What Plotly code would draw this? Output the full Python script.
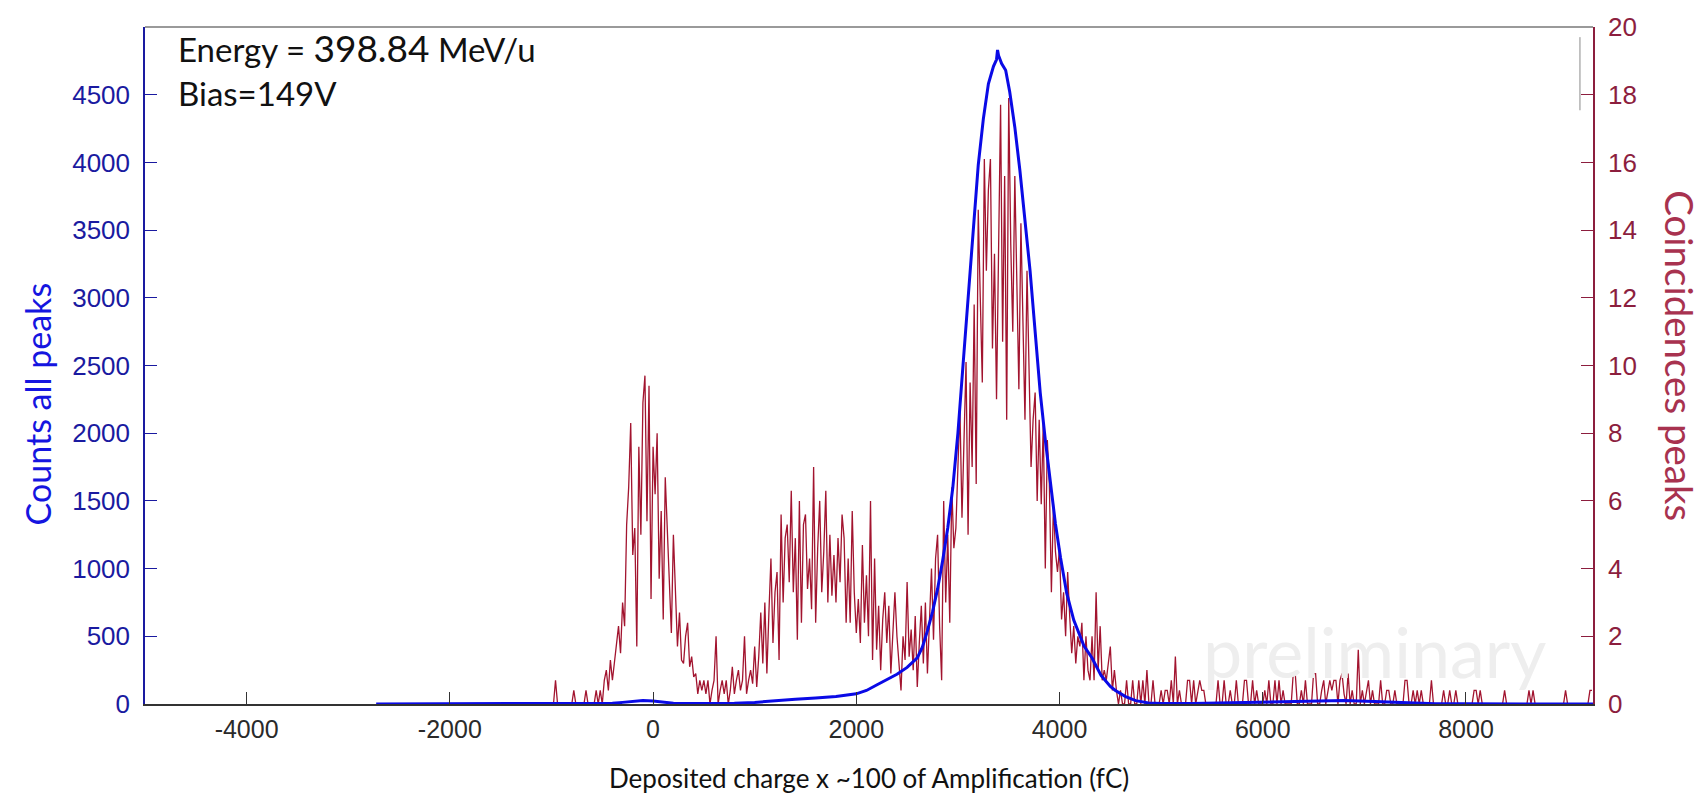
import plotly.graph_objects as go

# ---------------- data ----------------
# Coincidences histogram (right axis), bins of 20 fC starting at -1000
red_bin_start = -1000
red_bin_width = 20
red_values = [
    0, 0, 0.7, 0, 0, 0, 0, 0, 0, 0,                      # -1000
    0, 0.4, 0, 0, 0, 0, 0, 0.4, 0, 0,                    # -800
    0, 0, 0.4, 0, 0.4, 0, 0.7, 1.0, 0.4, 1.3,            # -600
    0.7, 1.3, 1.7, 2.3, 1.5, 3.0, 2.3, 5.3, 6.4, 8.3,    # -400
    4.4, 5.2, 1.7, 7.6, 5.0, 8.9, 9.7, 5.4, 9.4, 3.1,    # -200
    7.6, 6.2, 8.0, 3.7, 5.7, 2.5, 6.7, 5.0, 3.4, 2.1,    # 0
    5.0, 3.1, 1.7, 2.7, 1.3, 1.2, 2.0, 2.4, 1.1, 1.4,    # 200
    0.8, 0.9, 0.3, 0.7, 0.4, 0.7, 0.3, 0.7, 0, 0.4,      # 400
    0.7, 2.0, 0, 0.4, 0.7, 0.3, 0.7, 0, 0.4, 1.1,        # 600
    0.3, 0.7, 1.0, 0.4, 0.7, 2.0, 0.3, 0.7, 1.0, 0.6,    # 800
    1.7, 0.5, 1.4, 2.7, 1.2, 3.0, 0.9, 2.7, 4.3, 1.8,    # 1000
    3.3, 3.9, 1.3, 5.6, 3.0, 4.9, 5.3, 3.6, 6.3, 3.3,    # 1200
    4.9, 1.9, 6.0, 2.4, 5.3, 5.6, 3.4, 4.3, 2.8, 7.0,    # 1400
    2.4, 4.6, 6.0, 3.3, 4.5, 6.3, 3.0, 5.0, 3.2, 4.4,    # 1600
    3.0, 4.9, 3.6, 5.6, 4.9, 2.4, 4.3, 2.4, 5.7, 3.3,    # 1800
    2.1, 3.1, 1.8, 4.7, 2.4, 3.8, 2.0, 6.0, 1.3, 4.3,    # 2000
    1.6, 2.9, 1.0, 2.5, 3.3, 1.8, 2.9, 0.9, 2.2, 3.3,    # 2200
    2.0, 1.2, 0.4, 2.0, 1.3, 3.6, 1.4, 2.2, 1.0, 2.6,    # 2400
    0.5, 1.8, 2.9, 1.2, 3.0, 0.9, 2.4, 4.0, 1.9, 4.3,    # 2600
    5.0, 2.3, 0.7, 6.0, 3.0, 5.0, 2.4, 6.4, 4.6, 5.2,    # 2800
    7.0, 8.7, 5.5, 7.8, 10.1, 5.0, 9.5, 7.0, 11.8, 6.5,  # 3000
    14.6, 12.0, 9.5, 16.1, 12.8, 15.2, 16.1, 10.5, 13.3, 9.0,  # 3200
    14.0, 17.7, 10.7, 15.6, 8.4, 17.9, 13.6, 11.0, 15.6, 12.5, # 3400
    9.3, 14.2, 11.0, 8.4, 12.8, 9.7, 7.0, 8.4, 9.2, 6.0,  # 3600
    8.4, 5.9, 8.3, 4.0, 7.8, 6.5, 3.3, 5.9, 4.5, 3.9,     # 3800
    4.6, 2.5, 3.3, 2.0, 3.9, 2.6, 1.5, 2.3, 1.2, 2.0,     # 4000
    1.7, 2.4, 0.7, 2.0, 1.0, 0.7, 2.0, 0.7, 3.3, 1.0,     # 4200
    2.3, 0.7, 1.0, 0.7, 1.3, 1.7, 0.4, 1.0, 0.4, 0,       # 4400
    0.4, 0, 0, 0.7, 0, 0, 0.7, 0, 0, 0.7,                 # 4600
    0, 0.7, 0, 1.0, 0, 0, 0.7, 0, 0, 0,                   # 4800
    0.4, 0, 0.4, 0.4, 0, 0.7, 0, 1.4, 0, 0.4,             # 5000
    0, 0, 0, 0.7, 0.7, 0, 0.7, 0, 0.4, 0.7,               # 5200
    0.4, 0.4, 0, 0, 0, 0, 0, 0, 0.7, 0,                   # 5400
    0, 0.7, 0, 0, 0.4, 0, 0, 0.7, 0, 0,                   # 5600
    0, 0.7, 0.7, 0, 0, 0.7, 0, 0.4, 0, 0,                 # 5800
    0, 0.4, 0, 0.7, 0, 0, 0.7, 0, 0.7, 0,                 # 6000
    0.4, 0, 0, 0, 0, 0.9, 0.9, 0, 0, 0.4,                 # 6200
    0, 0.7, 0, 0, 0, 0.9, 0.9, 0, 0, 0.4,                 # 6400
    0.7, 0, 0.4, 0.7, 0.4, 0.7, 0.7, 0, 0.7, 0.9,         # 6600
    0.3, 0, 0.9, 0, 0.4, 0, 0, 1.6, 0, 0.4,               # 6800
    0, 0.4, 0.7, 0, 0.4, 0, 0, 0, 0.7, 0,                 # 7000
    0, 0.4, 0.4, 0, 0, 0.4, 0, 0, 0, 0,                   # 7200
    0.7, 0.7, 0, 0, 0.4, 0, 0.4, 0, 0.4, 0,               # 7400
    0, 0, 0, 0.7, 0, 0, 0, 0, 0, 0.4,                     # 7600
    0, 0, 0.4, 0, 0, 0.4, 0, 0, 0, 0,                     # 7800
    0, 0, 0, 0, 0.4, 0.4, 0, 0.4, 0, 0,                   # 8000
    0, 0, 0, 0, 0, 0, 0, 0, 0, 0.4,                       # 8200
    0, 0, 0, 0, 0, 0, 0, 0, 0, 0,                         # 8400
    0, 0.4, 0, 0.4, 0, 0, 0, 0, 0, 0,                     # 8600
    0, 0, 0, 0, 0, 0, 0, 0, 0, 0.4,                       # 8800
    0, 0, 0, 0, 0, 0, 0, 0, 0, 0,                         # 9000
    0, 0.4, 0.4,                                          # 9200
]
red_x = [red_bin_start + i * red_bin_width for i in range(len(red_values))]

# Counts, all peaks (left axis)
blue_x = [-2725, -1000, -500, -400, -300, -200, -100, 0, 100, 200, 400, 600, 800,
          1000, 1200, 1400, 1600, 1800, 2000, 2100, 2200, 2300, 2400, 2500, 2600,
          2650, 2700, 2750, 2800, 2850, 2900, 2950, 3000, 3050, 3100, 3150, 3200,
          3250, 3300, 3350, 3380, 3390, 3400, 3430, 3470, 3510, 3560, 3610, 3660,
          3710, 3760, 3810, 3860, 3910, 3960, 4010, 4070, 4140, 4240, 4320, 4410,
          4500, 4550, 4650, 4750, 4875, 5000, 5300, 5600, 5900, 6200, 6500, 6800,
          7100, 7400, 7700, 8000, 9250]
blue_y = [0, 0, 2, 5, 12, 20, 25, 22, 12, 6, 3, 3, 6,
          12, 25, 35, 45, 55, 75, 100, 140, 180, 220, 270, 340,
          420, 540, 680, 850, 1060, 1300, 1600, 2000, 2500, 3000, 3480, 3980,
          4320, 4580, 4710, 4760, 4830, 4790, 4730, 4680, 4520, 4260, 3940, 3590,
          3200, 2750, 2300, 1950, 1620, 1330, 1080, 820, 620, 430, 340, 210,
          130, 100, 55, 25, 8, 4, 3, 8, 15, 20, 26, 26,
          18, 8, 2, 1, 0]

x_ticks = [-4000, -2000, 0, 2000, 4000, 6000, 8000]
left_ticks = [0, 500, 1000, 1500, 2000, 2500, 3000, 3500, 4000, 4500]
right_ticks = [0, 2, 4, 6, 8, 10, 12, 14, 16, 18, 20]

# ---------------- style ----------------
RED = "#a2142f"
BLUE = "#0a0ae6"
LEFT_C = "#1a1aa0"
RIGHT_C = "#8c1e3e"
DARK = "#333333"

fig = go.Figure()
fig.add_trace(go.Scatter(x=red_x, y=red_values, mode="lines",
                         line=dict(color=RED, width=1.3), yaxis="y",
                         hoverinfo="skip"))
fig.add_trace(go.Scatter(x=blue_x, y=blue_y, mode="lines",
                         line=dict(color=BLUE, width=3), yaxis="y2",
                         hoverinfo="skip"))

fig.update_layout(
    width=1708, height=796,
    margin=dict(l=145, r=115, t=19, b=92),
    plot_bgcolor="white", paper_bgcolor="white",
    showlegend=False,
    xaxis=dict(range=[-5000, 9250], tickvals=x_ticks,
               ticktext=[str(v) for v in x_ticks],
               ticks="inside", ticklen=12, tickcolor=DARK, tickwidth=1,
               showline=True, linecolor=DARK, linewidth=1.5,
               showgrid=False, zeroline=False, ticklabelstandoff=2,
               tickfont=dict(family="Liberation Sans, Arial", size=25, color="#2a2a2a")),
    yaxis=dict(side="right", range=[0, 20], tickvals=right_ticks,
               ticks="inside", ticklen=12, tickcolor=RIGHT_C, tickwidth=1,
               showline=True, linecolor=RIGHT_C, linewidth=1.5,
               showgrid=False, zeroline=False, ticklabelstandoff=8,
               tickfont=dict(family="Liberation Sans, Arial", size=26, color=RIGHT_C)),
    yaxis2=dict(side="left", overlaying="y", range=[0, 5000], tickvals=left_ticks,
                ticks="inside", ticklen=12, tickcolor=LEFT_C, tickwidth=1,
                showline=True, linecolor=LEFT_C, linewidth=1.5,
                showgrid=False, zeroline=False, ticklabelstandoff=8,
                tickfont=dict(family="Liberation Sans, Arial", size=26, color=LEFT_C)),
)

# top border and small gray artifact line
fig.add_shape(type="line", xref="paper", yref="paper", x0=0, x1=1, y0=1, y1=1,
              line=dict(color="#9a9a9a", width=2))
fig.add_shape(type="line", xref="paper", yref="paper", x0=0.991, x1=0.991,
              y0=0.877, y1=0.985, line=dict(color="#8a8a8a", width=1))

TITLE_FONT = "Lato, Open Sans, sans-serif"
annotations = [
    dict(text="Deposited charge x ~100 of Amplification (fC)", x=0.5, y=-0.083,
         xanchor="center", yanchor="top",
         font=dict(family=TITLE_FONT, size=26, color="#111111")),
    dict(text="Counts all peaks", x=-0.0746, y=0.444, textangle=-90,
         xanchor="center", yanchor="middle",
         font=dict(family=TITLE_FONT, size=34, color="#1515e0")),
    dict(text="Coincidences peaks", x=1.060, y=0.514, textangle=90,
         xanchor="center", yanchor="middle",
         font=dict(family=TITLE_FONT, size=38.5, color="#a8324f")),
    dict(text="Energy = <span style='font-size:37px'>398.84</span> MeV/u",
         x=0.0214, y=(704 - 40) / 685, xanchor="left", yanchor="middle",
         font=dict(family=TITLE_FONT, size=33, color="#111111")),
    dict(text="Bias=149V", x=0.0214, y=(704 - 86) / 685, xanchor="left", yanchor="middle",
         font=dict(family=TITLE_FONT, size=33, color="#111111")),
    dict(text="preliminary", x=0.8494, y=0.0788, xanchor="center", yanchor="middle",
         font=dict(family="Lato, sans-serif", size=70, color="#eeeeee")),
]
for a in annotations:
    a.update(xref="paper", yref="paper", showarrow=False)
    fig.add_annotation(**a)

fig.write_html("out.html")
